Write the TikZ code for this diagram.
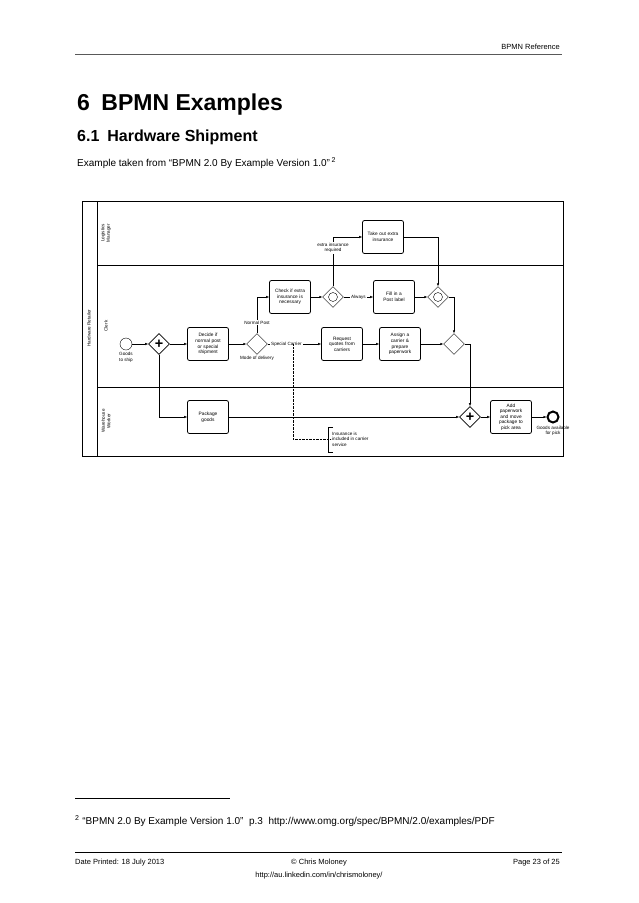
\documentclass[tikz,border=0pt]{standalone}
\usepackage{fontspec}
\setmainfont{Liberation Sans}
\usetikzlibrary{shapes.geometric,arrows.meta,positioning}
\hyphenpenalty=10000
\tikzset{
  task/.style={rectangle,rounded corners=2pt,draw,thick,minimum width=41pt,minimum height=33pt,text width=32pt,align=center,font=\fontsize{4.8}{5.6}\selectfont,inner sep=1pt},
  gate/.style={diamond,draw,minimum width=21pt,minimum height=21pt,inner sep=0pt},
  lbl/.style={font=\fontsize{4.6}{5.4}\selectfont,align=center,inner sep=1pt},
  flow/.style={-{Latex[length=3pt,width=2.5pt]}},
  pagetext/.style={anchor=base west,inner sep=0pt}
}
\begin{document}
\begin{tikzpicture}[x=1pt,y=-1pt]
\useasboundingbox (0,0) rectangle (638,903);
% page header and titles
\node[anchor=base east,inner sep=0pt,font=\fontsize{7.5}{9}\selectfont] (head) at (560,49) {BPMN Reference};
\draw[gray!70!black,thick] (75,54) -- (562,54);
\node[pagetext,font=\fontsize{23}{27}\bfseries] (title) at (77,110) {6\enspace BPMN Examples};
\node[pagetext,font=\fontsize{16}{19}\bfseries] (subtitle) at (77,141) {6.1\enspace Hardware Shipment};
\node[pagetext,font=\fontsize{10}{12}\selectfont] (source) at (77,166) {Example taken from “BPMN 2.0 By Example Version 1.0”\,\textsuperscript{2}};
% pool and lanes
\draw[thick] (82,201) rectangle (563,456);
\draw (97,201) -- (97,456);
\draw (97,265) -- (563,265);
\draw (97,387) -- (563,387);
\node[lbl,rotate=90] (pool) at (89,328) {Hardware Retailer};
\node[lbl,rotate=90] (lanelm) at (106,233) {Logistics\\Manager};
\node[lbl,rotate=90] (laneclerk) at (106,326) {Clerk};
\node[lbl,rotate=90] (laneww) at (106,421) {Warehouse\\Worker};
% elements
\node[circle,draw,minimum size=12pt,inner sep=0pt] (start) at (126,344) {};
\node[lbl,below=1pt of start] (startlbl) {Goods\\to ship};
\node[gate,thick] (fork) at (159,344) {\textbf{\Large +}};
\node[task] (decide) at (208,344) {Decide if normal post or special shipment};
\node[task] (package) at (208,417) {Package goods};
\node[gate] (mode) at (257,344) {};
\node[lbl,below=0pt of mode] (modelbl) {Mode of delivery};
\node[task] (check) at (290,297) {Check if extra insurance is necessary};
\node[gate] (incl1) at (333,297) {};
\draw (incl1.center) circle (4.5pt);
\node[task] (takeout) at (383,237) {Take out extra insurance};
\node[task] (fillin) at (394,297) {Fill in a Post label};
\node[gate] (incl2) at (438,297) {};
\draw (incl2.center) circle (4.5pt);
\node[task] (request) at (342,344) {Request quotes from carriers};
\node[task] (assign) at (400,344) {Assign a carrier \& prepare paperwork};
\node[gate] (xor) at (454,344) {};
\node[gate,thick] (join) at (470,417) {\textbf{\Large +}};
\node[task] (addpaper) at (511,417) {Add paperwork and move package to pick area};
\node[circle,draw,line width=2pt,minimum size=11pt,inner sep=0pt] (end) at (553,417) {};
\node[lbl,below=1pt of end] (endlbl) {Goods available\\for pick};
\node[lbl,anchor=west,align=left] (note) at (331,439) {Insurance is\\included in carrier\\service};
% flows
\draw[flow] (start) -- (fork);
\draw[flow] (fork) -- (decide);
\draw[flow] (fork.south) |- (package);
\draw[flow] (decide) -- (mode);
\draw[flow] (mode.north) |- (check) node[lbl,pos=0.15,fill=white] {Normal Post};
\draw[flow] (mode) -- (request) node[lbl,pos=0.35,fill=white] {Special Carrier};
\draw[flow] (check) -- (incl1);
\draw[flow] (incl1.north) |- (takeout) node[lbl,pos=0.39,fill=white] {extra insurance\\required};
\draw[flow] (incl1) -- (fillin) node[lbl,midway,fill=white] {Always};
\draw[flow] (takeout.east) -| (incl2.north);
\draw[flow] (fillin) -- (incl2);
\draw[flow] (request) -- (assign);
\draw[flow] (assign) -- (xor);
\draw[flow] (incl2.east) -| (xor.north);
\draw[flow] (xor.east) -| (join.north);
\draw[flow] (package) -- (join);
\draw[flow] (join) -- (addpaper);
\draw[flow] (addpaper) -- (end);
% annotation
\coordinate (assoc) at (293,344);
\draw[densely dotted] (assoc) |- (note.west);
\draw (333,427) -- (328,427) -- (328,452) -- (333,452);
% footnote and footer
\draw (75,798) -- (230,798);
\node[pagetext,font=\fontsize{10}{12}\selectfont] (fn) at (75,824) {\textsuperscript{2}\ “BPMN 2.0 By Example Version 1.0”\ \ p.3\ \ http://www.omg.org/spec/BPMN/2.0/examples/PDF};
\draw (75,852) -- (562,852);
\node[pagetext,font=\fontsize{7.5}{9}\selectfont] (date) at (75,864) {Date Printed: 18 July 2013};
\node[anchor=base,inner sep=0pt,font=\fontsize{7.5}{9}\selectfont] (copy) at (319,864) {© Chris Moloney};
\node[anchor=base east,inner sep=0pt,font=\fontsize{7.5}{9}\selectfont] (page) at (560,864) {Page 23 of 25};
\node[anchor=base,inner sep=0pt,font=\fontsize{7.5}{9}\selectfont] (url) at (319,877) {http://au.linkedin.com/in/chrismoloney/};
\end{tikzpicture}
\end{document}
